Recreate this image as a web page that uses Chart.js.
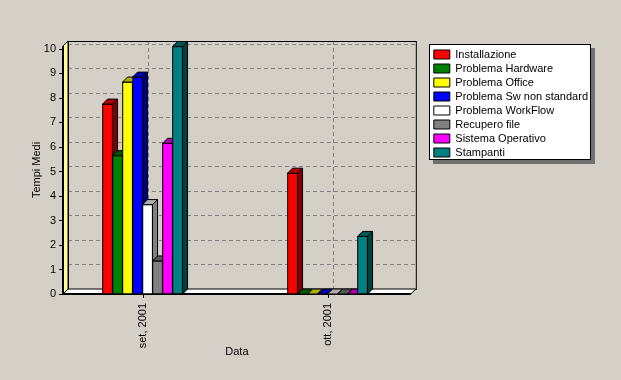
<!DOCTYPE html>
<html>
<head>
<meta charset="utf-8">
<script src="https://cdn.jsdelivr.net/npm/chart.js@4/dist/chart.umd.min.js"></script>
<style>
  html, body { margin: 0; padding: 0; background: #d4d0c8; }
  #wrap { width: 621px; height: 380px; }
</style>
</head>
<body>
<div id="wrap"><canvas id="tempiChart" width="621" height="380"></canvas></div>
<script>
// Data
const categories = ['set, 2001', 'ott, 2001'];
const installazione = [7.75, 4.93];
const problemaHardware = [5.65, 0];
const problemaOffice = [8.65, 0];
const problemaSw = [8.85, 0];
const problemaWorkflow = [3.65, 0];
const recuperoFile = [1.35, 0];
const sistemaOperativo = [6.15, 0];
const stampanti = [10.1, 2.35];

const seriesNames = ['Installazione', 'Problema Hardware', 'Problema Office', 'Problema Sw non standard',
    'Problema WorkFlow', 'Recupero file', 'Sistema Operativo', 'Stampanti'];
const seriesValues = [installazione, problemaHardware, problemaOffice, problemaSw,
    problemaWorkflow, recuperoFile, sistemaOperativo, stampanti];
const seriesColors = ['#ff0000', '#008000', '#ffff00', '#0000ff', '#ffffff', '#808080', '#ff00ff', '#008080'];

const D = 5; // 3d depth

function shade(hex, f) {
    const n = parseInt(hex.slice(1), 16);
    const r = Math.round(((n >> 16) & 255) * f);
    const g = Math.round(((n >> 8) & 255) * f);
    const b = Math.round((n & 255) * f);
    return 'rgb(' + r + ',' + g + ',' + b + ')';
}

function poly(ctx, pts, fill) {
    ctx.beginPath();
    ctx.moveTo(pts[0][0], pts[0][1]);
    for (let i = 1; i < pts.length; i++) ctx.lineTo(pts[i][0], pts[i][1]);
    ctx.closePath();
    ctx.fillStyle = fill;
    ctx.fill();
    ctx.strokeStyle = '#000';
    ctx.lineWidth = 1;
    ctx.stroke();
}

const threeD = {
    id: 'threeD',
    afterLayout(chart) {
        // categories sit a bit wider apart than chart.js' default half-step offset
        const x = chart.scales.x;
        x._startValue = -0.43;
        x._valueRange = 1.88;
    },
    beforeDraw(chart) {
        const ctx = chart.ctx;
        ctx.save();
        ctx.fillStyle = '#d4d0c8';
        ctx.fillRect(0, 0, chart.width, chart.height);
        // legend frame with shadow
        const boxes = chart.legend.legendHitBoxes;
        if (boxes && boxes.length) {
            const l = Math.round(Math.min(...boxes.map(b => b.left))) - 5;
            const t = Math.round(Math.min(...boxes.map(b => b.top))) - 5;
            const r = Math.round(Math.max(...boxes.map(b => b.left + b.width))) + 3;
            const bt = Math.round(Math.max(...boxes.map(b => b.top + b.height))) + 2;
            ctx.fillStyle = '#707070';
            ctx.fillRect(l + 4, t + 4, r - l, bt - t);
            ctx.fillStyle = '#ffffff';
            ctx.fillRect(l, t, r - l, bt - t);
            ctx.strokeStyle = '#000';
            ctx.lineWidth = 1;
            ctx.strokeRect(l + 0.5, t + 0.5, r - l - 1, bt - t - 1);
        }
        ctx.restore();
    },
    beforeDatasetsDraw(chart) {
        const { ctx, chartArea: a, scales: { x, y } } = chart;
        ctx.save();
        // dashed grid on the back wall
        ctx.strokeStyle = '#808080';
        ctx.lineWidth = 1;
        ctx.setLineDash([4, 3]);
        y.ticks.forEach(t => {
            if (t.value === 0) return;
            const py = Math.round(y.getPixelForValue(t.value)) - D + 0.5;
            ctx.beginPath(); ctx.moveTo(a.left + D, py); ctx.lineTo(a.right + D, py); ctx.stroke();
        });
        x.ticks.forEach((t, i) => {
            const px = Math.round(x.getPixelForTick(i)) + D + 0.5;
            ctx.beginPath(); ctx.moveTo(px, a.top - D); ctx.lineTo(px, a.bottom - D); ctx.stroke();
        });
        ctx.setLineDash([]);
        // back frame
        ctx.strokeStyle = '#000';
        ctx.strokeRect(a.left + D + 0.5, a.top - D + 0.5, a.right - a.left, a.bottom - a.top);
        // left wall and floor
        poly(ctx, [[a.left, a.bottom], [a.left, a.top], [a.left + D, a.top - D], [a.left + D, a.bottom - D]], '#ffff99');
        poly(ctx, [[a.left, a.bottom], [a.right, a.bottom], [a.right + D, a.bottom - D], [a.left + D, a.bottom - D]], '#ffffff');
        // front axis line + ticks
        ctx.fillStyle = '#000';
        ctx.fillRect(a.left - 1, a.top, 2, a.bottom - a.top + 1);
        ctx.fillRect(a.left - 1, a.bottom - 1, a.right - a.left + 1, 2);
        y.ticks.forEach(t => {
            const py = Math.round(y.getPixelForValue(t.value));
            ctx.fillRect(a.left - 4, py, 4, 1);
        });
        x.ticks.forEach((t, i) => {
            const px = Math.round(x.getPixelForTick(i));
            ctx.fillRect(px, a.bottom, 1, 4);
        });
        ctx.restore();
    },
    afterDatasetsDraw(chart) {
        const ctx = chart.ctx;
        ctx.save();
        chart.data.datasets.forEach((ds, i) => {
            const meta = chart.getDatasetMeta(i);
            const col = seriesColors[i];
            meta.data.forEach(bar => {
                const p = bar.getProps(['x', 'y', 'base', 'width'], true);
                const l = p.x - p.width / 2, r = p.x + p.width / 2;
                bar.draw(ctx);
                poly(ctx, [[r, p.y], [r + D, p.y - D], [r + D, p.base - D], [r, p.base]], shade(col, 0.5));
                poly(ctx, [[l, p.y], [l + D, p.y - D], [r + D, p.y - D], [r, p.y]], shade(col, 0.68));
            });
        });
        ctx.restore();
    }
};

Chart.defaults.font.family = '"Liberation Sans", Arial, sans-serif';
Chart.defaults.font.size = 11;
Chart.defaults.color = '#000';

const ctx = document.getElementById('tempiChart').getContext('2d');
const tempiChart = new Chart(ctx, {
    type: 'bar',
    data: {
        labels: categories,
        datasets: seriesNames.map((name, i) => ({
            label: name,
            data: seriesValues[i],
            backgroundColor: seriesColors[i],
            borderColor: '#000',
            borderWidth: 1,
            borderSkipped: false,
            barThickness: 10
        }))
    },
    options: {
        responsive: false,
        animation: false,
        layout: {
            padding: { left: 20, top: 46, right: 23, bottom: 10 }
        },
        plugins: {
            legend: {
                position: 'right',
                align: 'start',
                maxWidth: 220,
                labels: {
                    boxWidth: 16,
                    boxHeight: 9,
                    padding: 3,
                    color: '#000'
                }
            },
            tooltip: { enabled: false }
        },
        scales: {
            x: {
                offset: true,
                grid: { display: false, drawTicks: false },
                border: { display: false },
                ticks: { minRotation: 90, maxRotation: 90, padding: 9 },
                title: { display: true, text: 'Data', padding: { top: 0, bottom: 11 } },
                afterFit(s) { s.height = 380 - 294 - 10; }
            },
            y: {
                min: 0,
                max: 10.12,
                grid: { display: false, drawTicks: false },
                border: { display: false },
                ticks: { stepSize: 1, includeBounds: false, padding: 7 },
                title: { display: true, text: 'Tempi Medi', padding: { top: 10, bottom: 0 } },
                afterFit(s) { s.width = 63 - 20; }
            },
            y2: {
                position: 'right',
                grid: { display: false, drawTicks: false },
                border: { display: false },
                ticks: { display: false },
                afterFit(s) { s.width = 20; }
            }
        }
    },
    plugins: [threeD]
});
</script>
</body>
</html>
